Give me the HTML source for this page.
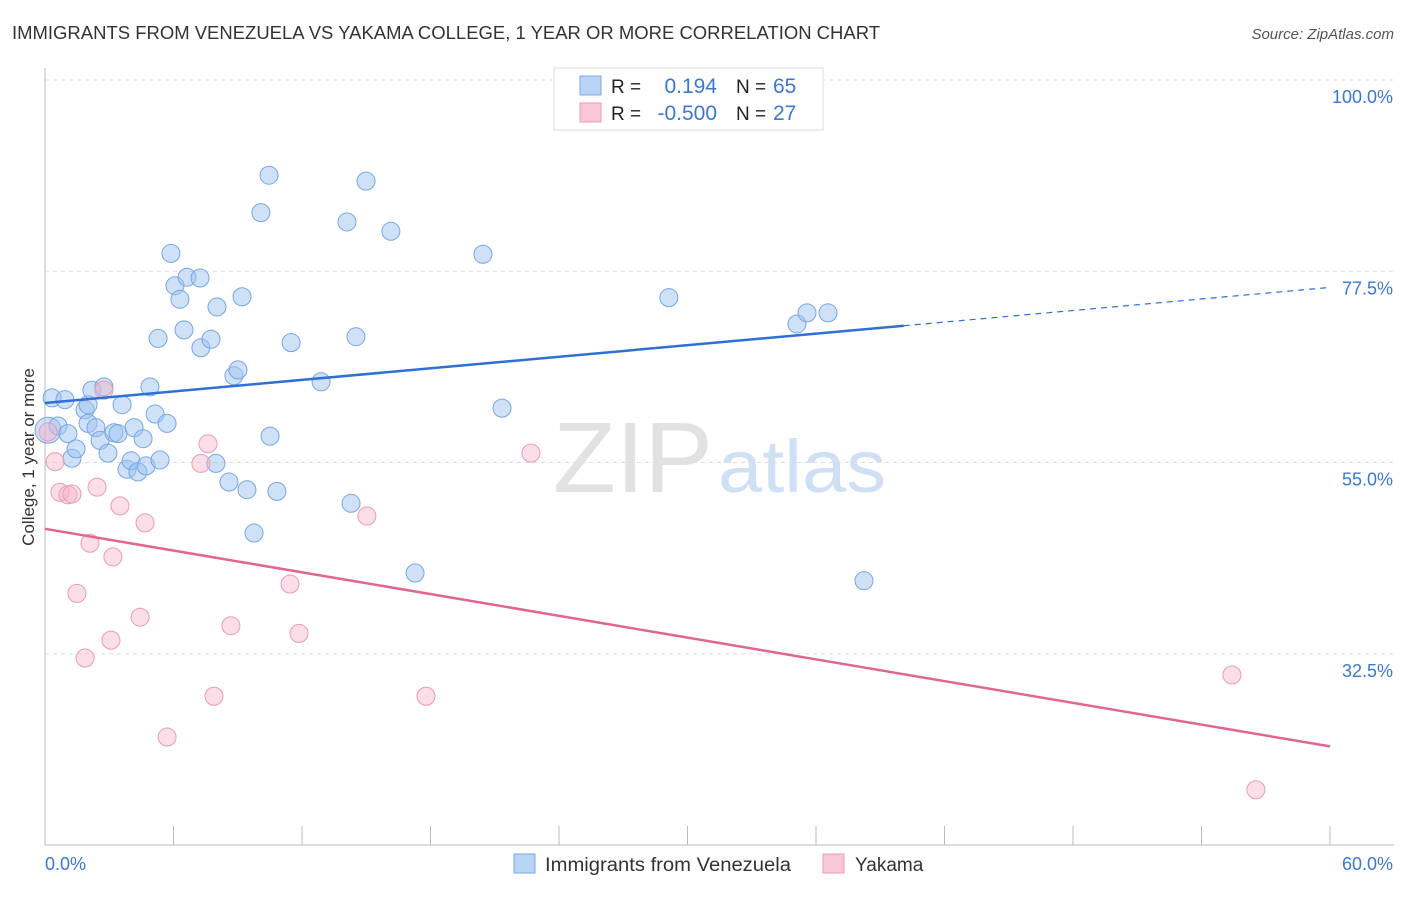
<!DOCTYPE html>
<html><head><meta charset="utf-8"><style>
body{margin:0;background:#fff;font-family:"Liberation Sans",sans-serif;}
svg text{font-family:"Liberation Sans",sans-serif;}
</style></head><body>
<svg id="chart" width="1406" height="892">
<text x="12" y="39" font-size="18" fill="#333" textLength="868" lengthAdjust="spacingAndGlyphs">IMMIGRANTS FROM VENEZUELA VS YAKAMA COLLEGE, 1 YEAR OR MORE CORRELATION CHART</text>
<text x="1394" y="39" font-size="15" fill="#555" font-style="italic" text-anchor="end">Source: ZipAtlas.com</text>
<g>
<text x="553" y="492" font-size="100" fill="#e2e2e2" font-family="Liberation Serif" textLength="160" lengthAdjust="spacingAndGlyphs">ZIP</text>
<text x="718" y="492" font-size="74" fill="#cfe0f5" textLength="168" lengthAdjust="spacingAndGlyphs">atlas</text>
</g>
<g id="grid"></g><g id="axes"></g><g id="marks"></g>
<text transform="translate(34,457) rotate(-90)" font-size="17" fill="#333" text-anchor="middle">College, 1 year or more</text>
<g>
<rect x="554" y="68" width="269" height="62" fill="#fff" stroke="#ddd"/>
<rect x="580" y="76" width="21" height="19" fill="#b9d3f5" stroke="#7aa8e8"/>
<rect x="580" y="103" width="21" height="19" fill="#f9c6d5" stroke="#ec9db5"/>
<text x="611" y="93" font-size="19" fill="#222">R =</text>
<text x="717" y="93" font-size="21" fill="#3a78d4" text-anchor="end">0.194</text>
<text x="736" y="93" font-size="19" fill="#222">N =</text>
<text x="773" y="93" font-size="21" fill="#3a78d4">65</text>
<text x="611" y="120" font-size="19" fill="#222">R =</text>
<text x="717" y="120" font-size="21" fill="#3a78d4" text-anchor="end">-0.500</text>
<text x="736" y="120" font-size="19" fill="#222">N =</text>
<text x="773" y="120" font-size="21" fill="#3a78d4">27</text>
</g>
<g>
<rect x="514" y="854" width="21" height="19" fill="#b9d3f5" stroke="#7aa8e8"/>
<text x="545" y="871" font-size="19" fill="#333" textLength="246" lengthAdjust="spacingAndGlyphs">Immigrants from Venezuela</text>
<rect x="823" y="854" width="21" height="19" fill="#f9c6d5" stroke="#ec9db5"/>
<text x="855" y="871" font-size="19" fill="#333">Yakama</text>
</g>
</svg>
<script>
const yTicks=[100,77.5,55,32.5];
const yTickLabels=["100.0%","77.5%","55.0%","32.5%"];
const xEndLabels=["0.0%","60.0%"];
const blueX=[0.33,0.14,0.93,0.61,1.07,1.87,2.01,2.19,2.75,1.26,1.45,2.01,2.38,2.57,2.94,3.22,3.41,3.60,3.83,4.02,4.16,4.34,4.58,4.72,4.90,5.14,5.37,5.70,5.28,5.88,6.07,6.30,6.49,6.63,7.24,7.28,7.75,8.03,7.98,8.59,8.82,9.01,9.20,9.43,9.76,10.08,10.46,10.51,10.83,11.49,12.89,14.10,14.29,14.52,14.99,16.15,17.28,20.45,21.34,29.13,35.11,35.58,36.56,38.24];
const blueY=[62.6,58.8,62.4,59.3,58.4,61.2,61.8,63.5,63.9,55.5,56.6,59.6,59.1,57.6,56.1,58.5,58.4,61.8,54.2,55.2,59.1,53.9,57.8,54.6,63.9,60.7,55.3,59.6,69.6,79.6,75.8,74.2,70.6,76.8,76.7,68.5,69.5,73.3,54.9,52.7,65.2,65.9,74.5,51.8,46.7,84.4,88.8,58.1,51.6,69.1,64.5,83.3,50.2,69.8,88.1,82.2,42.0,79.5,61.4,74.4,71.3,72.6,72.6,41.1];
const pinkX=[0.14,0.47,0.70,1.07,1.26,1.49,1.87,2.10,2.43,2.75,3.17,3.08,3.50,4.44,4.67,5.70,7.28,7.61,7.89,8.68,11.44,11.86,15.03,17.79,22.69,55.42,56.54];
const pinkY=[58.6,55.1,51.5,51.2,51.3,39.6,32.0,45.5,52.1,63.5,43.9,34.1,49.9,36.8,47.9,22.7,54.9,57.2,27.5,35.8,40.7,34.9,48.7,27.5,56.1,30.0,16.5];
const blueTrend=[62.0,75.6];
const pinkTrend=[47.2,21.6];
const blueSolidEnd=40.1;

const NS="http://www.w3.org/2000/svg";
const X=v=>45+v/60*1285;
const Y=v=>80+(100-v)*8.5;
function mk(tag,attrs,parent){const e=document.createElementNS(NS,tag);for(const k in attrs)e.setAttribute(k,attrs[k]);parent.appendChild(e);return e;}
const grid=document.getElementById('grid'),axes=document.getElementById('axes'),marks=document.getElementById('marks');
yTicks.forEach((t,i)=>{
 const l=mk('line',{x1:45,x2:1394,y1:Y(t),y2:Y(t),stroke:'#ddd','stroke-dasharray':'4,4'},grid);
 
 
 const tx=mk('text',{x:1393,y:Y(t)+23,'font-size':18,fill:'#3a78d4','text-anchor':'end'},axes);
 tx.textContent=yTickLabels[i];
 
 
});
const ax=mk('line',{x1:45,x2:1394,y1:845,y2:845,stroke:'#bbb'},axes);


const ay=mk('line',{x1:45,x2:45,y1:68,y2:845,stroke:'#bbb'},axes);


for(let i=0;i<=10;i++){
 const t=mk('line',{x1:X(i*6),x2:X(i*6),y1:826,y2:845,stroke:'#bbb'},axes);
 
 
}
const xl0=mk('text',{x:45,y:870,'font-size':18,fill:'#3a78d4'},axes);xl0.textContent=xEndLabels[0];


const xl1=mk('text',{x:1393,y:870,'font-size':18,fill:'#3a78d4','text-anchor':'end'},axes);xl1.textContent=xEndLabels[1];


function dot(x,y,fill,stroke,name,r){
 const c=mk('circle',{cx:X(x),cy:Y(y),r:r,fill:fill,stroke:stroke,'stroke-width':1},marks);
 
 
}
blueX.forEach((x,i)=>dot(x,blueY[i],'rgba(160,195,240,0.5)','#77a6e6','venezuela-point',i===1?13:9));
pinkX.forEach((x,i)=>dot(x,pinkY[i],'rgba(246,182,202,0.45)','#eb9bb4','yakama-point',9));
const bAt=v=>blueTrend[0]+(blueTrend[1]-blueTrend[0])*v/60;
const b1=mk('line',{x1:X(0),y1:Y(bAt(0)),x2:X(blueSolidEnd),y2:Y(bAt(blueSolidEnd)),stroke:'#2f6fd6','stroke-width':2.5},marks);


const b2=mk('line',{x1:X(blueSolidEnd),y1:Y(bAt(blueSolidEnd)),x2:X(60),y2:Y(bAt(60)),stroke:'#2f6fd6','stroke-width':1.2,'stroke-dasharray':'6,5'},marks);


const p1=mk('line',{x1:X(0),y1:Y(pinkTrend[0]),x2:X(60),y2:Y(pinkTrend[1]),stroke:'#e0668f','stroke-width':2.5},marks);


</script>
</body></html>
